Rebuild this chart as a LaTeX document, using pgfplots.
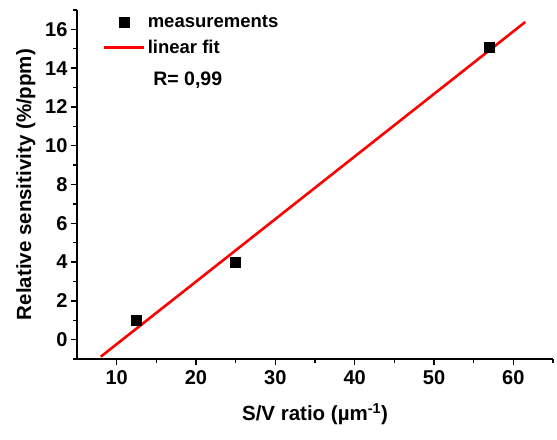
\documentclass[border=0pt]{standalone}
\usepackage{fontspec}
\setmainfont{Liberation Sans}
\usepackage{pgfplots}
\pgfplotsset{compat=1.18}

\begin{document}
\begin{tikzpicture}
\begin{axis}[
    scale only axis,
    width=476pt, height=349pt,
    xmin=5, xmax=65, ymin=-1, ymax=17,
    axis x line*=bottom, axis y line*=left,
    axis line style={line width=1.6pt},
    xtick={10,20,...,60}, ytick={0,2,...,16},
    minor xtick={15,25,...,65}, minor ytick={-1,1,...,17},
    tick align=outside,
    major tick length=6pt, minor tick length=4pt,
    every tick/.style={black, line width=1.4pt},
    tick label style={font=\fontsize{20}{22}\selectfont\bfseries},
    xticklabel style={yshift=-2pt},
    /pgf/number format/assume math mode=true,
    xlabel={S/V ratio (µm\textsuperscript{-1})},
    ylabel={Relative sensitivity (\%/ppm)},
    label style={font=\fontsize{20.5}{22}\selectfont\bfseries},
    xlabel style={yshift=-12pt},
    ylabel style={yshift=3pt},
    clip=false,
    legend cell align=left,
    legend style={draw=none, fill=none, at={(0.0546,0.99)}, anchor=north west,
        font=\fontsize{18.5}{20}\selectfont\bfseries,
        row sep=7pt, inner sep=0pt,
        nodes={inner xsep=2pt}},
    legend image code/.code={\draw[#1, mark repeat=2, mark phase=2] plot coordinates {(0pt,0pt) (20pt,0pt) (40pt,0pt)};},
]
\addplot[only marks, mark=square*, mark size=5pt, black]
    coordinates {(12.5,1.0) (25,4.0) (57,15.1)};
\addlegendentry{measurements}
\addplot[red, line width=2.6pt, no marks]
    coordinates {(8.0,-0.88) (61.5,16.38)};
\addlegendentry{linear fit}
\node[anchor=west, font=\fontsize{19.5}{21}\selectfont\bfseries] at (rel axis cs:0.153,0.80) {R= 0,99};
\end{axis}
\pgfresetboundingbox
\path ([shift={(-77pt,-80pt)}]current axis.south west) rectangle ([shift={(4pt,10pt)}]current axis.north east);
\end{tikzpicture}
\end{document}
